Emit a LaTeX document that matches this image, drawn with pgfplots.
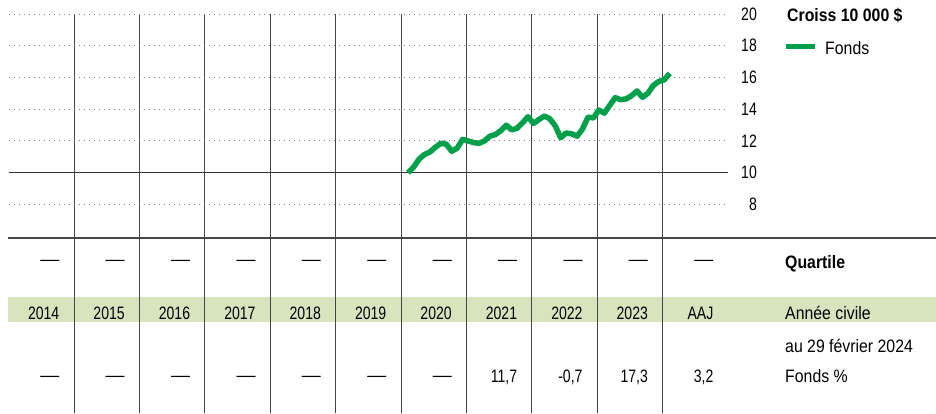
\documentclass[border=0pt]{standalone}
\usepackage{pgfplots}
\pgfplotsset{compat=1.18}
\usepackage{pgfplotstable}
\usepackage{fontspec}
\setmainfont{Liberation Sans}[FakeStretch=0.88]
\newfontfamily\numfont{Liberation Sans}[FakeStretch=0.78]
\definecolor{fundgreen}{RGB}{0,160,75}
\definecolor{bandgreen}{RGB}{215,228,190}
\definecolor{gridgray}{RGB}{70,70,70}
\newcommand{\tf}{\fontsize{18}{21}\selectfont}
\newcommand{\dsh}{{\numfont\scalebox{1.35}[1]{—}}}

\pgfplotstableread{
x y
6.109 10.00
6.192 10.35
6.275 10.85
6.359 11.15
6.442 11.30
6.525 11.60
6.609 11.85
6.692 11.80
6.775 11.35
6.859 11.55
6.942 12.10
7.025 12.00
7.109 11.90
7.192 11.85
7.275 12.00
7.359 12.30
7.442 12.40
7.525 12.65
7.609 12.99
7.692 12.70
7.775 12.80
7.859 13.15
7.942 13.53
8.025 13.10
8.109 13.35
8.192 13.57
8.275 13.40
8.359 12.95
8.442 12.20
8.525 12.50
8.609 12.45
8.692 12.30
8.775 12.75
8.859 13.50
8.942 13.45
9.025 13.95
9.109 13.75
9.192 14.25
9.275 14.73
9.359 14.60
9.442 14.65
9.525 14.85
9.609 15.15
9.692 14.75
9.775 15.00
9.859 15.50
9.942 15.75
10.025 15.85
10.109 16.26
}\fundsdata

\begin{document}
\tf
\begin{tikzpicture}
\useasboundingbox (0pt,0pt) rectangle (936pt,413pt);
% calendar-year band
\fill[bandgreen] (8pt,91pt) rectangle (936pt,116pt);
\begin{axis}[
  at={(8.6pt,0pt)}, anchor=south west,
  scale only axis, width=719.4pt, height=399pt,
  xmin=0, xmax=11, ymin=-5.142, ymax=20,
  axis line style={draw=none},
  xtick={1,...,10}, xticklabels={},
  xmajorgrids, major x grid style={gridgray, line width=1pt},
  ytick={8,10,...,20},
  ymajorgrids, major y grid style={gray, line width=1pt, dash pattern=on 1pt off 4pt},
  yticklabel pos=right,
  yticklabel style={anchor=east, inner sep=0pt, xshift=29pt, font=\tf\numfont},
  /pgf/number format/assume math mode=true,
  major tick length=0pt, tick style={draw=none},
  clip=false,
]
\addplot[black!80, line width=1pt, forget plot] coordinates {(0,10) (11,10)};
\addplot[fundgreen, line width=5.5pt, line join=round, line cap=butt] table[x=x, y=y] {\fundsdata};
\end{axis}
% separator
\draw[gridgray, line width=2.5pt] (8pt,175pt) -- (936pt,175pt);
% legend
\node[anchor=base west, inner sep=0pt, font=\tf\bfseries] at (787pt,391pt) {Croiss 10 000 \$};
\draw[fundgreen, line width=5pt] (786pt,366.3pt) -- (815pt,366.3pt);
\node[anchor=base west, inner sep=0pt] at (825pt,358pt) {Fonds};
% quartile row
\foreach \k in {0,...,10} {
  \pgfmathsetmacro{\xr}{8.6+65.4*(\k+1)-14.5}
  \node[anchor=base east, inner sep=0pt] at (\xr pt,148pt) {\dsh};
}
\node[anchor=base west, inner sep=0pt, font=\tf\bfseries] at (785pt,145pt) {Quartile};
% years row
\foreach \k/\lab in {0/2014,1/2015,2/2016,3/2017,4/2018,5/2019,6/2020,7/2021,8/2022,9/2023,10/AAJ} {
  \pgfmathsetmacro{\xr}{8.6+65.4*(\k+1)-14.5}
  \node[anchor=base east, inner sep=0pt, font=\tf\numfont] at (\xr pt,93.7pt) {\lab};
}
\node[anchor=base west, inner sep=0pt] at (785pt,93.7pt) {Année civile};
% fund returns row
\foreach \k in {0,...,6} {
  \pgfmathsetmacro{\xr}{8.6+65.4*(\k+1)-14.5}
  \node[anchor=base east, inner sep=0pt] at (\xr pt,32pt) {\dsh};
}
\foreach \k/\lab in {7/{11,7},8/{-0,7},9/{17,3},10/{3,2}} {
  \pgfmathsetmacro{\xr}{8.6+65.4*(\k+1)-14.5}
  \node[anchor=base east, inner sep=0pt, font=\tf\numfont] at (\xr pt,31pt) {\lab};
}
\node[anchor=base west, inner sep=0pt] at (785pt,61pt) {au 29 février 2024};
\node[anchor=base west, inner sep=0pt] at (785pt,31pt) {Fonds \%};
\end{tikzpicture}
\end{document}
